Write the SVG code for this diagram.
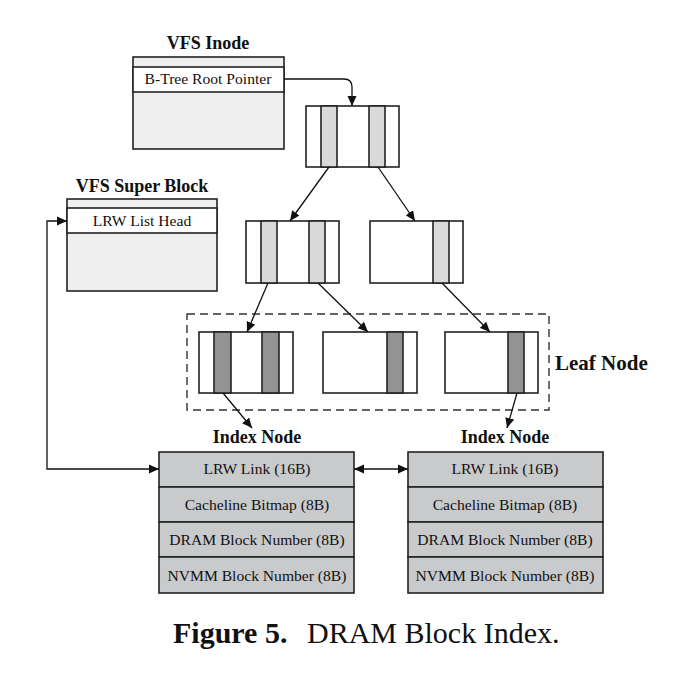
<svg xmlns="http://www.w3.org/2000/svg" width="698" height="676" viewBox="0 0 698 676">
<style>
text{font-family:"Liberation Serif","Times New Roman",serif;fill:#111}
.t{font-size:18px;font-weight:bold;text-anchor:middle}
.f{font-size:15.6px;text-anchor:middle}
.box{stroke:#222;stroke-width:1.6}
.lt{fill:#efefef}
.wh{fill:#fff}
.bl{fill:#d9d9da}
.dk{fill:#939396}
.ix{fill:#c9cacb}
.c{fill:none;stroke:#111;stroke-width:1.3}
</style>
<defs>
<marker id="ah" viewBox="0 0 10 10" refX="10" refY="5" markerWidth="10" markerHeight="10" markerUnits="userSpaceOnUse" orient="auto-start-reverse">
<path d="M0,0.5 L10,5 L0,9.5 z" fill="#111"/>
</marker>
</defs>
<rect width="698" height="676" fill="#fff"/>

<g id="vfs-inode">
<text class="t" x="208" y="49">VFS Inode</text>
<rect class="box lt" x="133" y="57" width="151" height="92"/>
<rect class="box wh" x="133" y="67" width="151" height="25"/>
<text class="f" x="208" y="84">B-Tree Root Pointer</text>
</g>

<g id="vfs-super-block">
<text class="t" x="142" y="192">VFS Super Block</text>
<rect class="box lt" x="67" y="199" width="150" height="92"/>
<rect class="box wh" x="67" y="208" width="150" height="25"/>
<text class="f" x="142" y="226">LRW List Head</text>
</g>

<g id="root-node">
<rect class="box wh" x="306" y="106" width="93" height="61"/>
<rect class="box bl" x="321" y="106" width="16" height="61"/>
<rect class="box bl" x="369" y="106" width="16" height="61"/>
</g>

<g id="inner-left">
<rect class="box wh" x="246" y="221" width="93" height="62"/>
<rect class="box bl" x="261" y="221" width="16" height="62"/>
<rect class="box bl" x="309" y="221" width="16" height="62"/>
</g>

<g id="inner-right">
<rect class="box wh" x="370" y="221" width="93" height="62"/>
<rect class="box bl" x="433" y="221" width="16" height="62"/>
</g>

<g id="leaf-node">
<rect x="187" y="314" width="362" height="96" fill="none" stroke="#333" stroke-width="1.4" stroke-dasharray="8,5"/>
<text x="555" y="370" style="font-size:21px;font-weight:bold">Leaf Node</text>
</g>

<g id="leaf-1">
<rect class="box wh" x="199" y="332" width="94" height="61"/>
<rect class="box dk" x="214" y="332" width="17" height="61"/>
<rect class="box dk" x="262" y="332" width="17" height="61"/>
</g>

<g id="leaf-2">
<rect class="box wh" x="323" y="332" width="94" height="61"/>
<rect class="box dk" x="387" y="332" width="16" height="61"/>
</g>

<g id="leaf-3">
<rect class="box wh" x="445" y="332" width="93" height="61"/>
<rect class="box dk" x="508" y="332" width="16" height="61"/>
</g>

<g id="index-node-1">
<text class="t" x="257" y="443">Index Node</text>
<rect class="box ix" x="159" y="452" width="195" height="35"/>
<rect class="box ix" x="159" y="487" width="195" height="35"/>
<rect class="box ix" x="159" y="522" width="195" height="35"/>
<rect class="box ix" x="159" y="557" width="195" height="36"/>
<text class="f" x="257" y="474">LRW Link (16B)</text>
<text class="f" x="257" y="510">Cacheline Bitmap (8B)</text>
<text class="f" x="257" y="545">DRAM Block Number (8B)</text>
<text class="f" x="257" y="581">NVMM Block Number (8B)</text>
</g>

<g id="index-node-2">
<text class="t" x="505" y="443">Index Node</text>
<rect class="box ix" x="408" y="452" width="195" height="35"/>
<rect class="box ix" x="408" y="487" width="195" height="35"/>
<rect class="box ix" x="408" y="522" width="195" height="35"/>
<rect class="box ix" x="408" y="557" width="195" height="36"/>
<text class="f" x="505" y="474">LRW Link (16B)</text>
<text class="f" x="505" y="510">Cacheline Bitmap (8B)</text>
<text class="f" x="505" y="545">DRAM Block Number (8B)</text>
<text class="f" x="505" y="581">NVMM Block Number (8B)</text>
</g>

<g id="connectors">
<path class="c" d="M284,79 H344 Q352,79 352,87 V106" marker-end="url(#ah)"/>
<path class="c" d="M329,167 L290,221" marker-end="url(#ah)"/>
<path class="c" d="M378,167 L415,221" marker-end="url(#ah)"/>
<path class="c" d="M268,283 L247,332" marker-end="url(#ah)"/>
<path class="c" d="M318,283 L368,332" marker-end="url(#ah)"/>
<path class="c" d="M442,283 L490,332" marker-end="url(#ah)"/>
<path class="c" d="M223,393 L252,428" marker-end="url(#ah)"/>
<path class="c" d="M517,393 L507,428" marker-end="url(#ah)"/>
<path class="c" d="M159,469 H47 V221 H67" marker-start="url(#ah)" marker-end="url(#ah)"/>
<path class="c" d="M354,469 H408" marker-start="url(#ah)" marker-end="url(#ah)"/>
</g>

<g id="caption">
<text x="173" y="643" style="font-size:30px"><tspan font-weight="bold">Figure 5.</tspan><tspan x="307">DRAM Block Index.</tspan></text>
</g>
</svg>
